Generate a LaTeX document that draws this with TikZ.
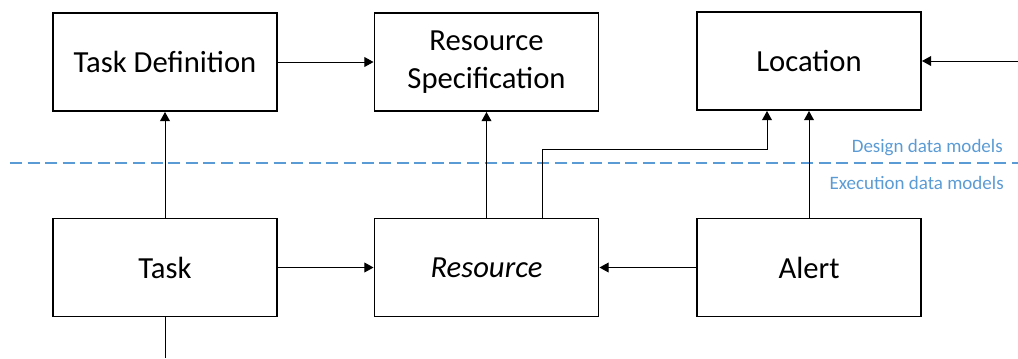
\documentclass[tikz,border=0pt]{standalone}
\usepackage{fontspec}
\setmainfont{Carlito}
\usetikzlibrary{arrows.meta}
\definecolor{lineblue}{RGB}{91,155,213}
\tikzset{
	model/.style={draw=black, line width=1.4pt, minimum width=224*0.025cm, minimum height=98*0.025cm, inner sep=0pt, font=\fontsize{21.8}{27}\selectfont, align=center},
	link/.style={draw=black, line width=0.7pt, -{Triangle[length=6.5pt,width=7pt]}},
	layer/.style={text=lineblue, font=\fontsize{13.5}{16}\selectfont, anchor=east, inner sep=0pt}
}

\begin{document}
\begin{tikzpicture}[x=0.025cm, y=-0.025cm]
		%%%%% START %%%%%
		\useasboundingbox (0, 0) rectangle (1018, 358);
		
		\node[model] (taskdef) at (165, 62) {Task Definition};
		\node[model] (resspec) at (486.5, 62) {Resource\\Specification};
		\node[model] (location) at (809, 61) {Location};
		
		\node[model] (task) at (165, 267.5) {Task};
		\node[model] (resource) at (486.5, 267.5) {\itshape Resource};
		\node[model] (alert) at (809, 267.5) {Alert};
		
		\draw[lineblue, line width=1.2pt, dash pattern=on 8.5pt off 4pt] (10, 163) -- (1018, 163);
		\node[layer] (design) at (1003, 148) {Design data models};
		\node[layer] (execution) at (1004, 183) {Execution data models};
		
		\coordinate (outside) at (1018, 61);
		\coordinate (below) at (165, 358);
		
		\draw[link] (taskdef) -- (resspec.west |- taskdef);
		\draw[link] (outside) -- (location.east |- outside);
		\draw[link] (task) -- (taskdef);
		\draw[link] (resource) -- (resspec);
		\draw[link] (resource.south -| 542, 0) ++(0, -98) -- ++(0, -70) -| (767, 0 |- location.south);
		\draw[link] (alert.north) -- (alert.north |- location.south);
		\draw[link] (task) -- (resource);
		\draw[link] (alert) -- (resource);
		\draw[line width=0.7pt] (task.south) -- (below);
		%%%%% END %%%%%
	\end{tikzpicture}
\end{document}
